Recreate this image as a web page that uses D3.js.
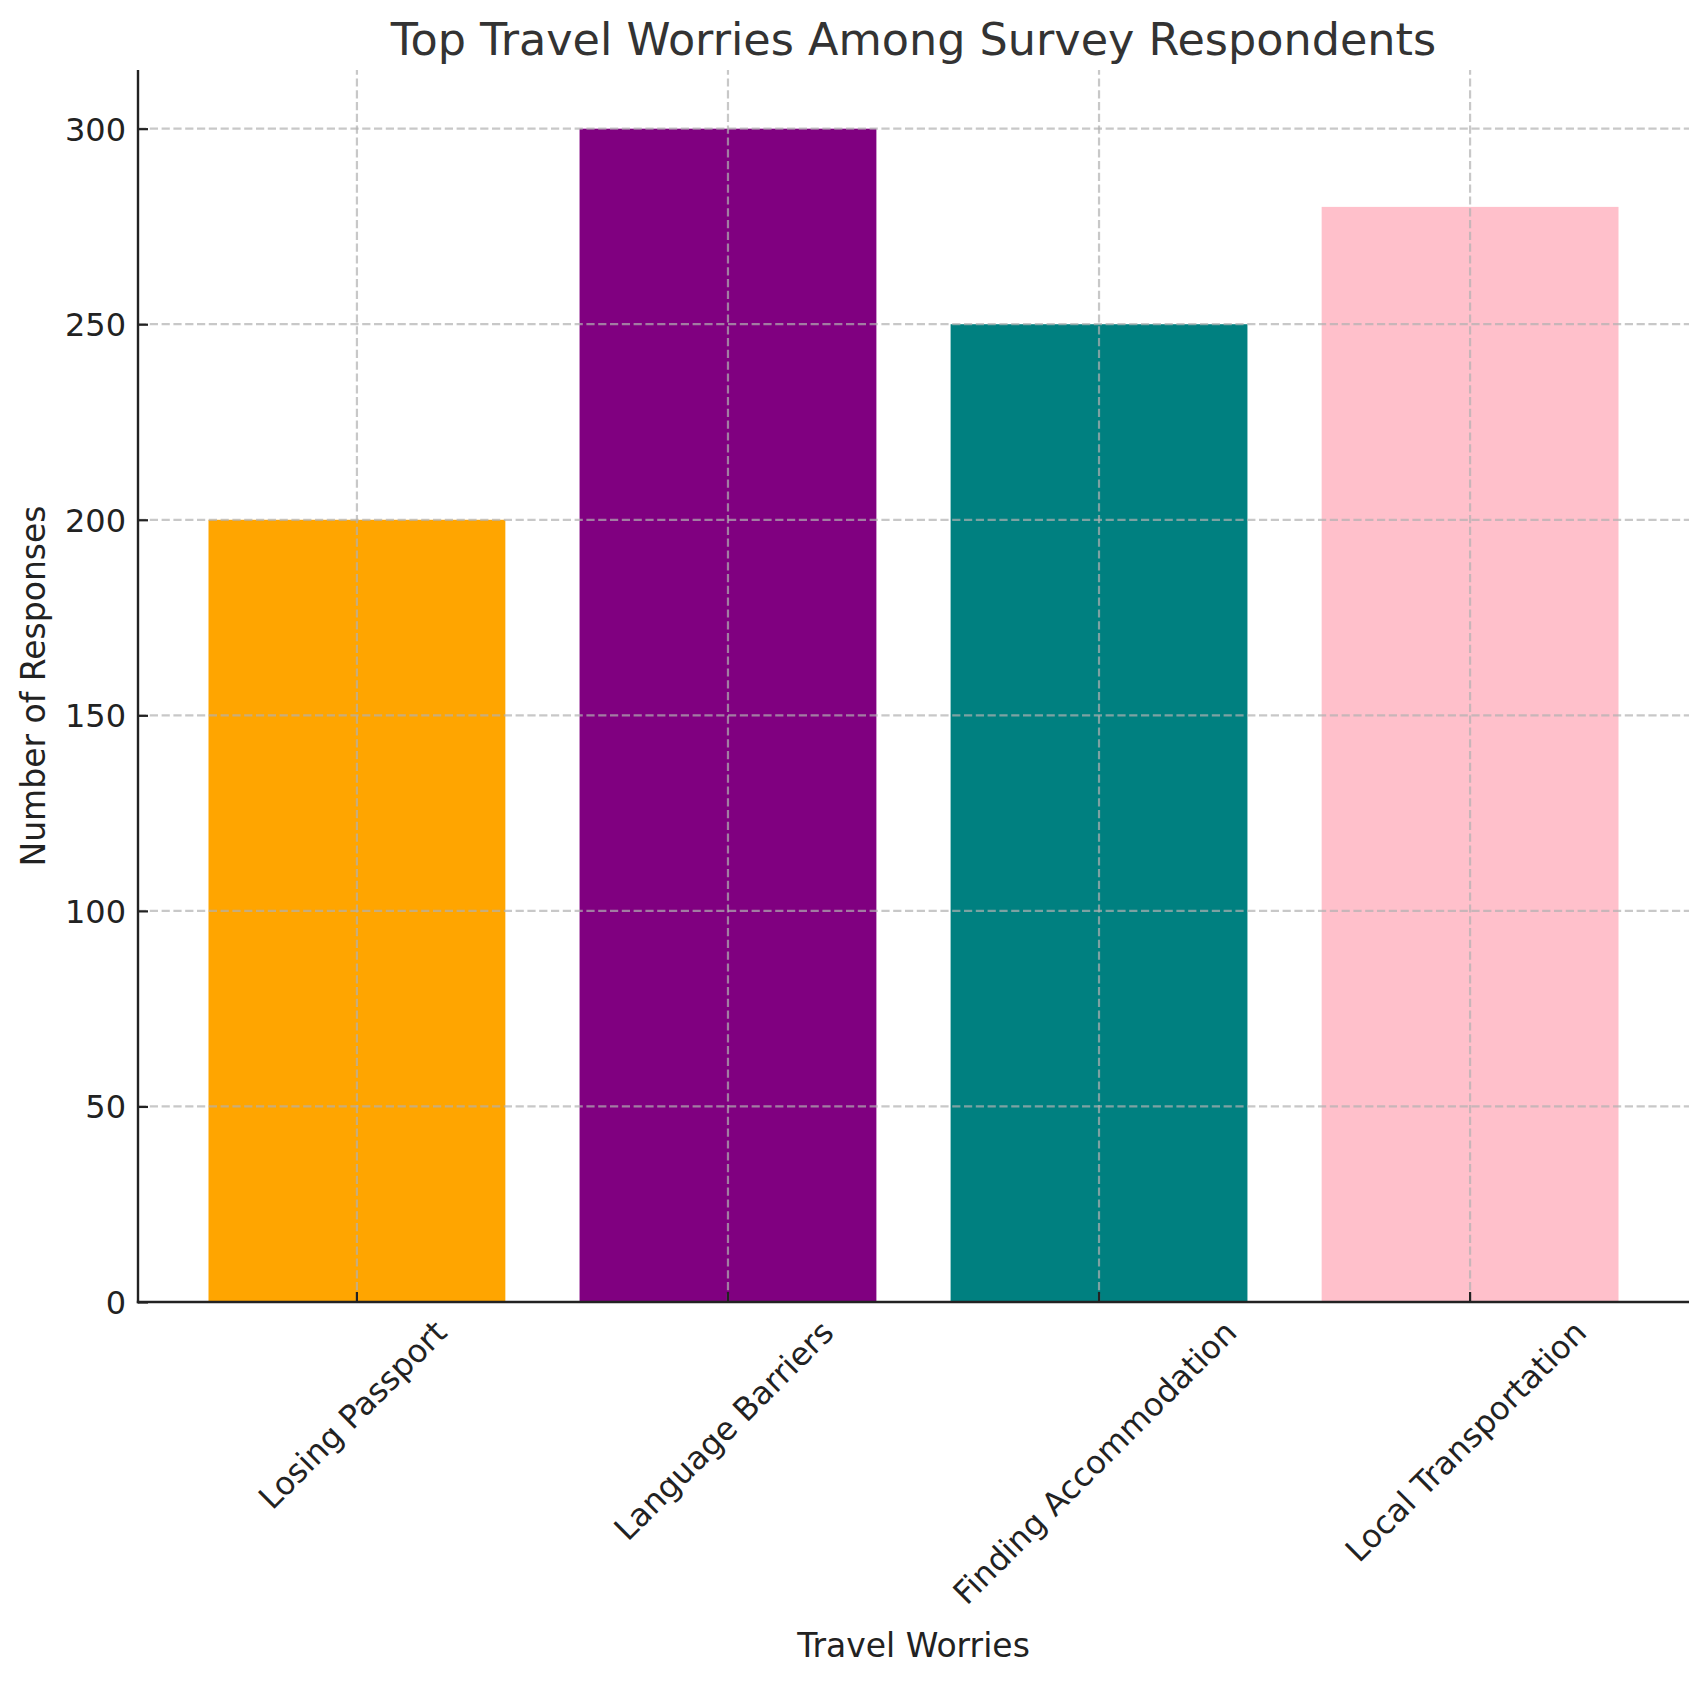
<!DOCTYPE html>
<html>
<head>
<meta charset="utf-8">
<script src="https://cdn.jsdelivr.net/npm/d3@7"></script>
<style>
  html, body { margin: 0; padding: 0; background: #fff; }
  svg { display: block; font-family: "DejaVu Sans", sans-serif; }
</style>
</head>
<body>
<svg id="chart" width="1707" height="1683"></svg>
<script>
const categories = ["Losing Passport", "Language Barriers", "Finding Accommodation", "Local Transportation"];
const responses = [200, 300, 250, 280];
const barColors = ["#FFA500", "#800080", "#008080", "#FFC0CB"];
const yTicks = [0, 50, 100, 150, 200, 250, 300];
const titleText = "Top Travel Worries Among Survey Respondents";
const xLabelText = "Travel Worries";
const yLabelText = "Number of Responses";

const W = 1707, H = 1683;
const x0 = 138, x1 = 1689, y0 = 1302, y1 = 70;

const svg = d3.select("#chart");

const x = d3.scaleBand().domain(categories).range([x0, x1]).paddingInner(0.2).paddingOuter(0.19);
const y = d3.scaleLinear().domain([0, 315]).range([y0, y1]);

// bars
svg.append("g").selectAll("rect").data(categories).join("rect")
  .attr("x", d => x(d))
  .attr("width", x.bandwidth())
  .attr("y", (d, i) => y(responses[i]))
  .attr("height", (d, i) => y(0) - y(responses[i]))
  .attr("fill", (d, i) => barColors[i]);

// grid
const grid = svg.append("g")
  .attr("stroke", "#b0b0b0").attr("stroke-opacity", 0.7)
  .attr("stroke-width", 2.2).attr("stroke-dasharray", "8.2,3.6").attr("fill", "none");
grid.selectAll("line.h").data(yTicks).join("line").attr("class", "h")
  .attr("x1", x0).attr("x2", x1).attr("y1", d => y(d)).attr("y2", d => y(d));
grid.selectAll("line.v").data(categories).join("line").attr("class", "v")
  .attr("x1", d => x(d) + x.bandwidth() / 2).attr("x2", d => x(d) + x.bandwidth() / 2)
  .attr("y1", y0).attr("y2", y1);

// y axis
const yAxis = svg.append("g").attr("transform", `translate(${x0},0)`)
  .call(d3.axisLeft(y).tickValues(yTicks).tickSizeInner(-10).tickSizeOuter(0).tickPadding(12));
yAxis.select(".domain").remove();
yAxis.selectAll(".tick line").attr("stroke", "#222").attr("stroke-width", 2.2);
yAxis.selectAll(".tick text").attr("font-size", 32).attr("fill", "#222")
  .attr("font-family", "DejaVu Sans").attr("dy", "0.36em");

// x axis
const xAxis = svg.append("g").attr("transform", `translate(0,${y0})`)
  .call(d3.axisBottom(x).tickSizeInner(-10).tickSizeOuter(0).tickFormat(() => ""));
xAxis.select(".domain").remove();
xAxis.selectAll(".tick line").attr("stroke", "#222").attr("stroke-width", 2.2);

// rotated x tick labels, rotated ink box centred on the tick
const fs = 32;
const lblG = svg.append("g");
categories.forEach(c => {
  const t = lblG.append("text").text(c)
    .attr("font-size", fs).attr("fill", "#222")
    .attr("text-anchor", "middle").attr("dy", "0.246em");
  const L = t.node().getComputedTextLength();
  const h = fs * 0.965;
  const bb = (L + h) / Math.SQRT2;
  const cx = x(c) + x.bandwidth() / 2 - 2;
  const cy = y0 + 16 + bb / 2;
  t.attr("transform", `translate(${cx},${cy}) rotate(-45)`);
});

// spines
svg.append("line").attr("x1", x0).attr("x2", x0).attr("y1", y1).attr("y2", y0 + 1.2)
  .attr("stroke", "#222").attr("stroke-width", 2.4);
svg.append("line").attr("x1", x0 - 1.2).attr("x2", x1).attr("y1", y0).attr("y2", y0)
  .attr("stroke", "#222").attr("stroke-width", 2.4);

// title & labels
svg.append("text").text(titleText)
  .attr("x", (x0 + x1) / 2).attr("y", 55)
  .attr("text-anchor", "middle").attr("font-size", 44.5).attr("fill", "#333");
svg.append("text").text(xLabelText)
  .attr("x", (x0 + x1) / 2).attr("y", 1657)
  .attr("text-anchor", "middle").attr("font-size", 33).attr("fill", "#222");
svg.append("text").text(yLabelText)
  .attr("transform", `translate(45,${(y0 + y1) / 2}) rotate(-90)`)
  .attr("text-anchor", "middle").attr("font-size", 33).attr("fill", "#222");
</script>
</body>
</html>
